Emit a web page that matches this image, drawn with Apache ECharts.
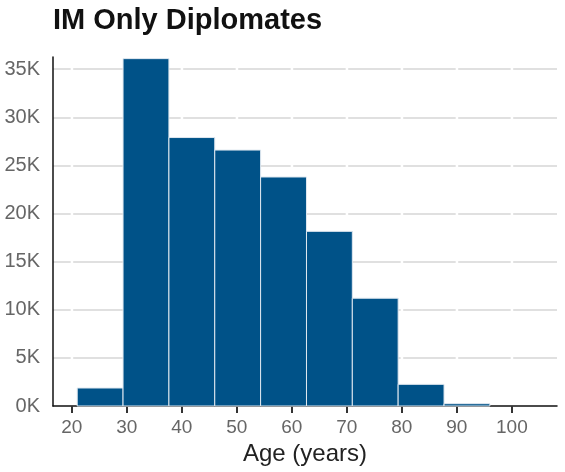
<!DOCTYPE html>
<html>
<head>
<meta charset="utf-8">
<script src="https://cdn.jsdelivr.net/npm/echarts@6/dist/echarts.min.js"></script>
<style>
  html, body { margin: 0; padding: 0; background: #fff; }
  #chart { width: 565px; height: 472px; }
</style>
</head>
<body>
<div id="chart"></div>
<script>
// histogram bin edges (years) and counts per bin
const binEdges = [21, 29.33, 37.67, 46, 54.33, 62.67, 71, 79.33, 87.67, 96]
const counts = [1870, 36100, 27900, 26600, 23800, 18150, 11200, 2250, 240]
const xTicks = [20, 30, 40, 50, 60, 70, 80, 90, 100]
const yTicks = [0, 5000, 10000, 15000, 20000, 25000, 30000, 35000]

const font = 'Liberation Sans, Arial, sans-serif'
const barColor = '#005288'

const bins = counts.map((c, i) => [binEdges[i], binEdges[i + 1], c])

const chart = echarts.init(document.getElementById('chart'))

const option = {
  animation: false,
  title: {
    text: 'IM Only Diplomates',
    left: 53,
    top: 6,
    padding: 0,
    textStyle: { color: '#111', fontSize: 29, fontWeight: 'bold', fontFamily: font }
  },
  grid: { left: 53, right: 8, top: 57, bottom: 66, containLabel: false },
  xAxis: {
    type: 'value',
    min: 16.6,
    max: 108.2,
    name: 'Age (years)',
    nameLocation: 'middle',
    nameGap: 36,
    nameTextStyle: { color: '#222', fontSize: 24, fontFamily: font },
    axisLine: { lineStyle: { color: '#111', width: 1.5 } },
    axisTick: { show: true, length: 7, customValues: xTicks, lineStyle: { color: '#333', width: 2 } },
    axisLabel: { customValues: xTicks, color: '#666', fontSize: 19, fontFamily: font, margin: 12 },
    splitLine: { show: false }
  },
  yAxis: {
    type: 'value',
    min: 0,
    max: 36270,
    interval: 5000,
    axisLine: { show: true, lineStyle: { color: '#111', width: 1.5 } },
    axisTick: { show: false },
    axisLabel: {
      customValues: yTicks,
      color: '#666',
      fontSize: 20,
      fontFamily: font,
      margin: 13,
      formatter: v => (v / 1000) + 'K'
    },
    splitLine: {
      show: true,
      showMaxLine: false,
      showMinLine: false,
      lineStyle: { color: '#d6d6d6', width: 1.5, type: [52.5, 2.5], dashOffset: 34.8 }
    }
  },
  series: [
    {
      type: 'custom',
      data: bins,
      encode: { x: [0, 1], y: 2 },
      renderItem: (params, api) => {
        const p0 = api.coord([api.value(0), 0])
        const p1 = api.coord([api.value(1), api.value(2)])
        return {
          type: 'rect',
          shape: { x: p0[0], y: p1[1], width: p1[0] - p0[0], height: p0[1] - p1[1] },
          style: { fill: barColor, stroke: '#dfe8f0', lineWidth: 1 }
        }
      }
    }
  ]
}

chart.setOption(option)
</script>
</body>
</html>
